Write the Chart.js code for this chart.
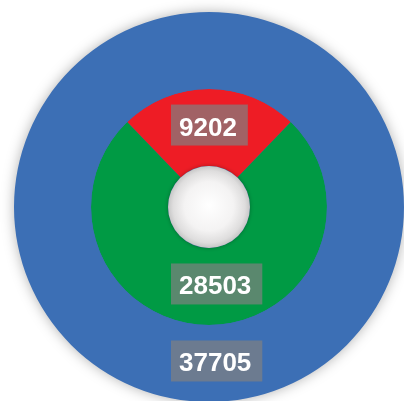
<!DOCTYPE html>
<html>
<head>
<meta charset="utf-8">
<script src="https://cdn.jsdelivr.net/npm/chart.js@4.4.0/dist/chart.umd.min.js"></script>
<style>
  html, body { margin: 0; padding: 0; background: #ffffff; overflow: hidden; }
  #wrap { position: relative; width: 410px; height: 410px; }
</style>
</head>
<body>
<div id="wrap"><canvas id="chart"></canvas></div>
<script>
  // ── Data ──────────────────────────────────────────────────────────────────
  const outerValues = [37705];
  const outerColors = ['#3c6fb5'];
  const innerValues = [9202, 28503];
  const innerColors = ['#ee1c25', '#009a44'];

  const innerTotal = innerValues.reduce((a, b) => a + b, 0);
  // red slice sits centred on the top
  const innerRotation = -(innerValues[0] / innerTotal) * 180;

  // ── Plugins ───────────────────────────────────────────────────────────────

  // soft grey halo round the disc
  const discShadow = {
    id: 'discShadow',
    beforeDatasetsDraw(chart) {
      const meta = chart.getDatasetMeta(0);
      const arc = meta.data[0];
      if (!arc) return;
      const ctx = chart.ctx;
      ctx.save();
      ctx.shadowColor = 'rgba(0,0,0,0.35)';
      ctx.shadowBlur = 14;
      ctx.fillStyle = outerColors[0];
      ctx.beginPath();
      ctx.arc(arc.x, arc.y, arc.outerRadius - 1, 0, Math.PI * 2);
      ctx.fill();
      ctx.restore();
    }
  };

  // shaded white hole in the middle
  const centreHole = {
    id: 'centreHole',
    afterDatasetsDraw(chart) {
      const arc = chart.getDatasetMeta(1).data[0];
      if (!arc) return;
      const ctx = chart.ctx;
      const r = arc.innerRadius;
      ctx.save();
      ctx.shadowColor = 'rgba(0,0,0,0.3)';
      ctx.shadowBlur = 4;
      const g = ctx.createRadialGradient(arc.x, arc.y - 2, 0, arc.x, arc.y, r);
      g.addColorStop(0, '#ffffff');
      g.addColorStop(0.6, '#f4f3f3');
      g.addColorStop(0.88, '#dedddd');
      g.addColorStop(1, '#c6c6c6');
      ctx.fillStyle = g;
      ctx.beginPath();
      ctx.arc(arc.x, arc.y, r, 0, Math.PI * 2);
      ctx.fill();
      ctx.restore();
    }
  };

  // value labels on grey translucent boxes
  const valueBoxes = {
    id: 'valueBoxes',
    afterDraw(chart) {
      const ctx = chart.ctx;
      ctx.save();
      ctx.font = 'bold 26px "Liberation Sans", Arial, sans-serif';
      ctx.textAlign = 'left';
      ctx.textBaseline = 'alphabetic';
      chart.data.datasets.forEach((ds, di) => {
        chart.getDatasetMeta(di).data.forEach((arc, i) => {
          const p = arc.tooltipPosition();
          const txt = String(ds.data[i]);
          const w = ctx.measureText(txt).width;
          const left = p.x - 38;
          const top = p.y - 23;
          ctx.fillStyle = 'rgba(128,128,128,0.7)';
          ctx.fillRect(left, top, w + 19, 41);
          ctx.fillStyle = '#ffffff';
          ctx.fillText(txt, left + 8, top + 31);
        });
      });
      ctx.restore();
    }
  };

  // ── Chart ─────────────────────────────────────────────────────────────────

  new Chart(document.getElementById('chart'), {
    type: 'doughnut',
    data: {
      datasets: [
        {
          data: outerValues,
          backgroundColor: outerColors,
          borderWidth: 0,
        },
        {
          data: innerValues,
          backgroundColor: innerColors,
          borderWidth: 0,
          rotation: innerRotation,
        },
      ],
    },
    options: {
      responsive: true,
      maintainAspectRatio: false,
      animation: false,
      cutout: '21%',
      layout: { padding: { left: 14, right: 6, top: 12, bottom: 8 } },
      plugins: {
        legend: { display: false },
        tooltip: { enabled: false },
      },
    },
    plugins: [discShadow, centreHole, valueBoxes],
  });
</script>
</body>
</html>
